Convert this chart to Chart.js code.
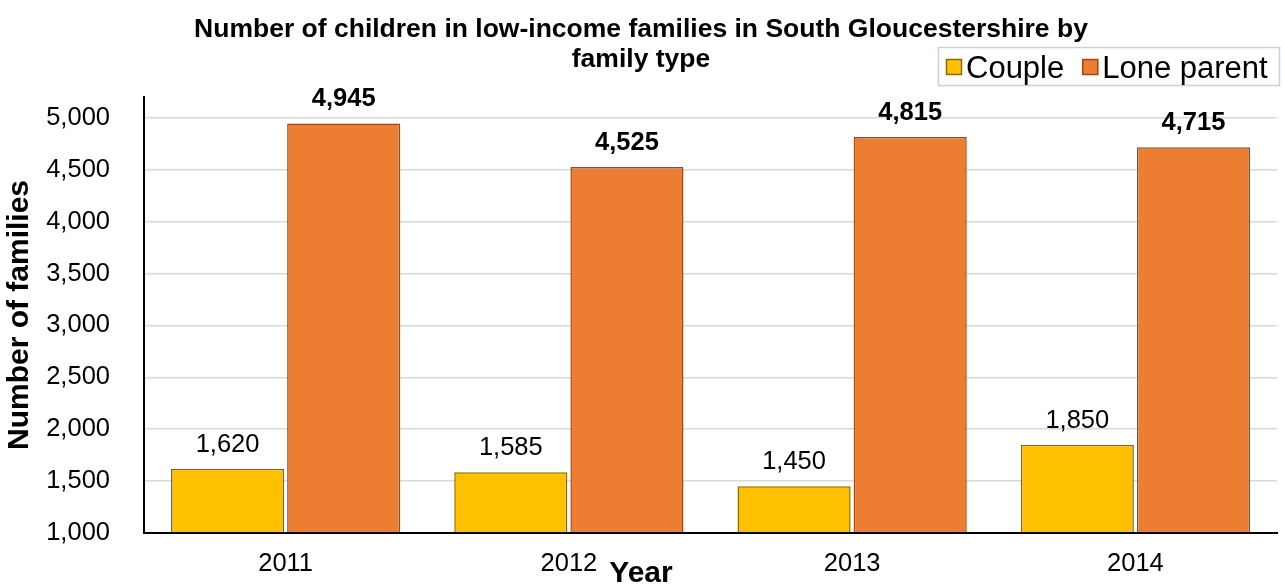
<!DOCTYPE html>
<html>
<head>
<meta charset="utf-8">
<script src="https://cdn.jsdelivr.net/npm/chart.js@4"></script>
<style>
  html, body { margin: 0; padding: 0; background: #fff; }
  #wrap { width: 1282px; height: 584px; }
</style>
</head>
<body>
<div id="wrap"><canvas id="lowIncomeChart"></canvas></div>
<script>
const years = ["2011", "2012", "2013", "2014"];
const couple = [1620, 1585, 1450, 1850];
const loneParent = [4945, 4525, 4815, 4715];
const seriesNames = ["Couple", "Lone parent"];
const yTicks = [1000, 1500, 2000, 2500, 3000, 3500, 4000, 4500, 5000];
const titleLines = ["Number of children in low-income families in South Gloucestershire by", "family type"];
const xTitle = "Year";
const yTitle = "Number of families";
const yMin = 1000;
const yMax = 5200;

const FONT = "'Liberation Sans', Arial, sans-serif";
const fmt = (v) => v.toLocaleString("en-US");

// title, x axis title and boxed legend, drawn by hand so they sit where the original has them
const headerPlugin = {
  id: "header",
  afterDraw(chart) {
    const ctx = chart.ctx;
    const mid = chart.width / 2;
    ctx.save();
    ctx.fillStyle = "#000";
    ctx.textAlign = "center";
    ctx.textBaseline = "alphabetic";
    ctx.font = "bold 26.5px " + FONT;
    ctx.fillText(titleLines[0], mid, 37);
    ctx.fillText(titleLines[1], mid, 67);

    ctx.font = "bold 30px " + FONT;
    ctx.fillText(xTitle, mid, 582);

    // legend box
    ctx.strokeStyle = "#c3d1ea";
    ctx.lineWidth = 1.5;
    ctx.strokeRect(938.5, 47.5, 341, 38);
    ctx.font = "31px " + FONT;
    ctx.textAlign = "left";
    let x = 946;
    chart.data.datasets.forEach((ds) => {
      ctx.fillStyle = ds.backgroundColor;
      ctx.fillRect(x, 59, 16, 16);
      ctx.strokeStyle = ds.borderColor;
      ctx.lineWidth = 1.5;
      ctx.strokeRect(x + 0.5, 59.5, 15, 15);
      ctx.fillStyle = "#000";
      ctx.fillText(ds.label, x + 20, 78);
      x += 20 + ctx.measureText(ds.label).width + 18;
    });
    ctx.restore();
  },
};

// value labels above the bars
const valueLabels = {
  id: "valueLabels",
  afterDatasetsDraw(chart) {
    const ctx = chart.ctx;
    ctx.save();
    ctx.textAlign = "center";
    ctx.textBaseline = "alphabetic";
    ctx.fillStyle = "#000";
    chart.data.datasets.forEach((ds, i) => {
      ctx.font = (i === 1 ? "bold " : "") + "25.5px " + FONT;
      chart.getDatasetMeta(i).data.forEach((bar, j) => {
        ctx.fillText(fmt(ds.data[j]), bar.x, bar.y - 17);
      });
    });
    ctx.restore();
  },
};

new Chart(document.getElementById("lowIncomeChart"), {
  type: "bar",
  data: {
    labels: years,
    datasets: [
      {
        label: seriesNames[0],
        data: couple,
        base: yMin,
        backgroundColor: "#FFC000",
        borderColor: "#8a6a00",
        borderWidth: 1.5,
      },
      {
        label: seriesNames[1],
        data: loneParent,
        base: yMin,
        backgroundColor: "#ED7D31",
        borderColor: "#9c4a14",
        borderWidth: 1.5,
      },
    ],
  },
  options: {
    responsive: true,
    maintainAspectRatio: false,
    animation: false,
    layout: { padding: { top: 97, right: 5, left: 0, bottom: 0 } },
    datasets: { bar: { categoryPercentage: 0.82, barPercentage: 0.974 } },
    plugins: {
      legend: { display: false },
      title: { display: false },
      tooltip: { enabled: false },
    },
    scales: {
      x: {
        grid: { display: false, drawTicks: false },
        border: { color: "#000", width: 2 },
        ticks: { color: "#000", padding: 16, font: { family: FONT, size: 25.5 } },
        afterFit(scale) { scale.height = 51; },
      },
      y: {
        min: yMin,
        max: yMax,
        grid: { color: "#d9d9d9", lineWidth: 1.5, drawTicks: false },
        border: { color: "#000", width: 2 },
        ticks: {
          color: "#000",
          padding: 34,
          font: { family: FONT, size: 25.5 },
          callback: (v) => fmt(v),
        },
        afterBuildTicks(scale) {
          scale.ticks = yTicks.map((v) => ({ value: v }));
        },
        title: {
          display: true,
          text: yTitle,
          color: "#000",
          padding: { top: 2, bottom: 0 },
          font: { family: FONT, size: 30, weight: "bold" },
        },
        afterFit(scale) { scale.width = 144; },
      },
    },
  },
  plugins: [headerPlugin, valueLabels],
});
</script>
</body>
</html>
